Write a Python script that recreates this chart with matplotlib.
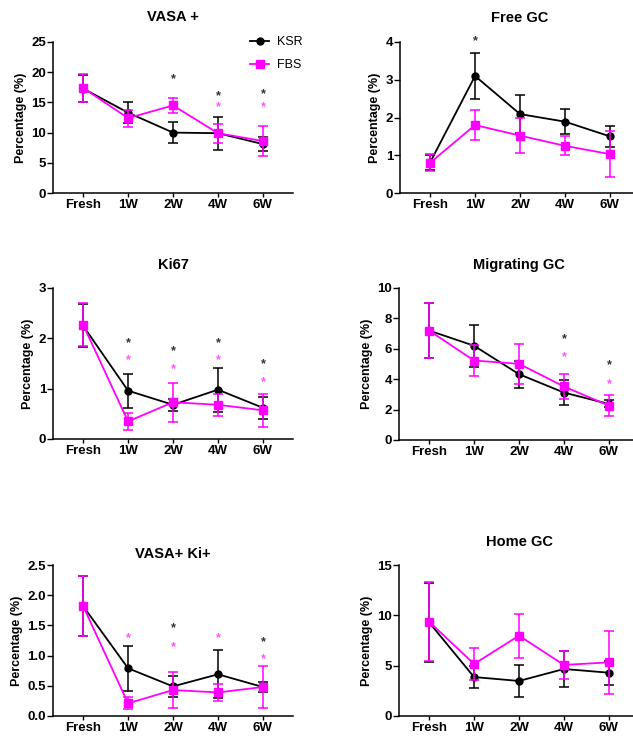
import matplotlib
matplotlib.use("Agg")
import matplotlib.pyplot as plt

plt.rcParams['font.family'] = ['Liberation Sans', 'DejaVu Sans']

cats = ["Fresh", "1W", "2W", "4W", "6W"]

# VASA +
vasa_ksr = [17.3, 13.3, 10.0, 9.9, 8.1]
vasa_ksr_err = [2.3, 1.7, 1.8, 2.7, 1.2]
vasa_fbs = [17.4, 12.4, 14.5, 9.9, 8.6]
vasa_fbs_err = [2.3, 1.4, 1.3, 1.6, 2.5]
vasa_star_ksr = [None, None, 18.8, 16.1, 16.4]
vasa_star_fbs = [None, None, None, 14.2, 14.2]

# Free GC
free_ksr = [0.81, 3.1, 2.09, 1.89, 1.5]
free_ksr_err = [0.2, 0.6, 0.5, 0.33, 0.27]
free_fbs = [0.8, 1.8, 1.52, 1.25, 1.03]
free_fbs_err = [0.22, 0.39, 0.46, 0.25, 0.6]
free_star_ksr = [None, 4.02, None, None, None]
free_star_fbs = [None, None, None, None, None]

# Ki67
ki_ksr = [2.25, 0.96, 0.68, 0.98, 0.62]
ki_ksr_err = [0.43, 0.34, 0.12, 0.44, 0.22]
ki_fbs = [2.27, 0.35, 0.73, 0.68, 0.57]
ki_fbs_err = [0.43, 0.17, 0.39, 0.22, 0.33]
ki_star_ksr = [None, 1.91, 1.74, 1.91, 1.48]
ki_star_fbs = [None, 1.56, 1.38, 1.56, 1.13]

# Migrating GC
mig_ksr = [7.2, 6.2, 4.33, 3.12, 2.37]
mig_ksr_err = [1.8, 1.37, 0.88, 0.8, 0.23]
mig_fbs = [7.2, 5.23, 5.01, 3.52, 2.26]
mig_fbs_err = [1.8, 1.0, 1.3, 0.82, 0.7]
mig_star_ksr = [None, None, None, 6.64, 4.95]
mig_star_fbs = [None, None, None, 5.43, 3.69]

# VASA+ Ki+
vk_ksr = [1.82, 0.79, 0.49, 0.69, 0.48]
vk_ksr_err = [0.49, 0.37, 0.17, 0.4, 0.09]
vk_fbs = [1.82, 0.21, 0.43, 0.39, 0.48]
vk_fbs_err = [0.49, 0.1, 0.3, 0.14, 0.34]
vk_star_ksr = [None, None, 1.46, None, 1.23]
vk_star_fbs = [None, 1.29, 1.14, 1.29, 0.94]

# Home GC
home_ksr = [9.3, 3.87, 3.48, 4.67, 4.3]
home_ksr_err = [3.9, 1.1, 1.6, 1.8, 1.2]
home_fbs = [9.37, 5.17, 7.98, 5.07, 5.33]
home_fbs_err = [3.9, 1.6, 2.2, 1.4, 3.1]
home_star_ksr = [None, None, None, None, None]
home_star_fbs = [None, None, None, None, None]

W, H = 633, 737
fig = plt.figure(figsize=(W / 100, H / 100), dpi=100)

ksr_color = "black"
fbs_color = "#FF00FF"


def make_panel(rect_px, title, title_y, ksr, ksr_err, fbs, fbs_err,
               star_ksr, star_fbs, ymax, ystep, fmt="%g"):
    # rect_px = (left, top, right, bottom) in pixels
    l, t, r, b = rect_px
    ax = fig.add_axes([l / W, 1 - b / H, (r - l) / W, (b - t) / H])
    x = list(range(len(cats)))
    ax.errorbar(x, ksr, yerr=ksr_err, color=ksr_color, marker="o", markersize=5,
                linewidth=1.3, elinewidth=1.1, capsize=3.5, capthick=1.1,
                label="KSR", clip_on=False, zorder=3)
    ax.errorbar(x, fbs, yerr=fbs_err, color=fbs_color, marker="s", markersize=5.5,
                linewidth=1.3, elinewidth=1.1, capsize=3.5, capthick=1.1,
                label="FBS", clip_on=False, zorder=4)
    for i in range(len(cats)):
        if star_ksr[i] is not None:
            ax.text(i, star_ksr[i], "*", color="#333333", ha="center", va="center",
                    fontsize=9, fontweight="bold")
        if star_fbs[i] is not None:
            ax.text(i, star_fbs[i], "*", color="#FF55FF", ha="center", va="center",
                    fontsize=9, fontweight="bold")
    ax.set_xlim(-0.67, 4.67)
    ax.set_ylim(0, ymax)
    ticks = [k * ystep for k in range(int(round(ymax / ystep)) + 1)]
    ax.set_yticks(ticks)
    ax.set_yticklabels([fmt % v for v in ticks])
    ax.set_xticks(x)
    ax.set_xticklabels(cats)
    for lab in ax.get_xticklabels() + ax.get_yticklabels():
        lab.set_fontweight("bold")
        lab.set_fontsize(9.5)
    ax.tick_params(axis="y", length=4, width=1, pad=1)
    ax.tick_params(axis="x", length=3, width=1, pad=1.5)
    ax.spines["top"].set_visible(False)
    ax.spines["right"].set_visible(False)
    ax.spines["left"].set_linewidth(1.1)
    ax.spines["bottom"].set_linewidth(1.1)
    ax.set_ylabel("Percentage (%)", fontsize=9, fontweight="bold", labelpad=3)
    cx = (l + 83 - 53 + l + 263 - 53) / 2
    fig.text(cx / W, 1 - title_y / H, title, ha="center", va="center",
             fontsize=10.5, fontweight="bold")
    return ax


ax1 = make_panel((53, 42, 293, 193), "VASA +", 17, vasa_ksr, vasa_ksr_err,
                 vasa_fbs, vasa_fbs_err, vasa_star_ksr, vasa_star_fbs, 25, 5)
make_panel((400, 42, 640, 193), "Free GC", 18, free_ksr, free_ksr_err,
           free_fbs, free_fbs_err, free_star_ksr, free_star_fbs, 4, 1)
make_panel((53, 288, 293, 439), "Ki67", 265, ki_ksr, ki_ksr_err,
           ki_fbs, ki_fbs_err, ki_star_ksr, ki_star_fbs, 3, 1)
make_panel((399, 288, 639, 440), "Migrating GC", 265, mig_ksr, mig_ksr_err,
           mig_fbs, mig_fbs_err, mig_star_ksr, mig_star_fbs, 10, 2)
make_panel((53, 565, 293, 716), "VASA+ Ki+", 554, vk_ksr, vk_ksr_err,
           vk_fbs, vk_fbs_err, vk_star_ksr, vk_star_fbs, 2.5, 0.5, fmt="%.1f")
make_panel((399, 565, 639, 716), "Home GC", 542, home_ksr, home_ksr_err,
           home_fbs, home_fbs_err, home_star_ksr, home_star_fbs, 15, 5)

# Legend in the first panel
handles, labels = ax1.get_legend_handles_labels()
handles = [h[0] for h in handles]
ax1.legend(handles, labels, loc="upper left", bbox_to_anchor=(244 / W, 1 - 30 / H),
           bbox_transform=fig.transFigure, frameon=False, fontsize=9,
           handlelength=1.5, handletextpad=0.6, labelspacing=0.9, borderpad=0)

fig.savefig("out.png", dpi=100)
